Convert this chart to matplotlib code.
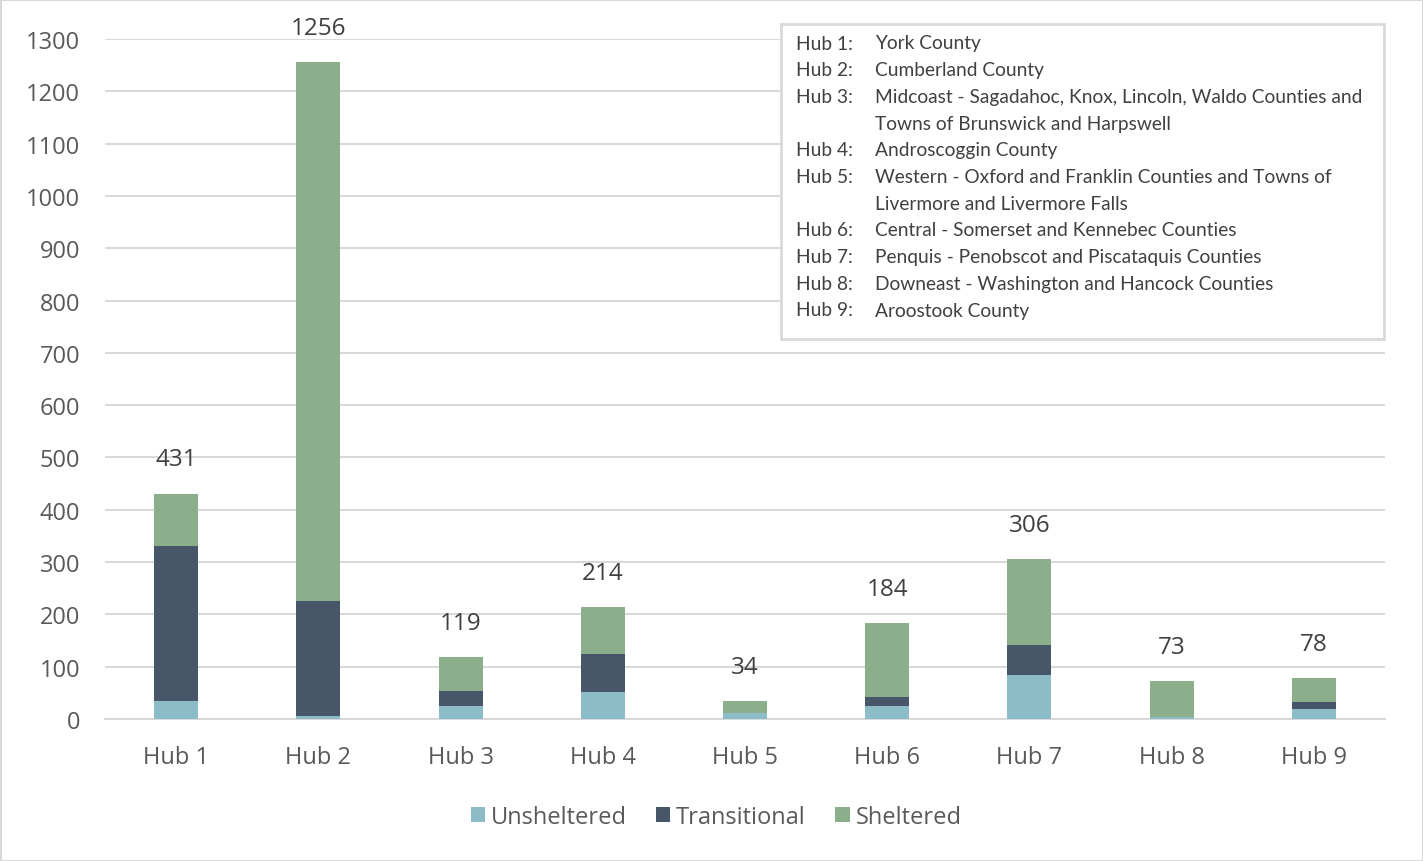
import matplotlib.pyplot as plt
from matplotlib.patches import Rectangle
import numpy as np

hubs = ["Hub 1", "Hub 2", "Hub 3", "Hub 4", "Hub 5", "Hub 6", "Hub 7", "Hub 8", "Hub 9"]
unsheltered = [34, 6, 25, 52, 11, 24, 84, 4, 20]
transitional = [297, 220, 29, 72, 0, 18, 58, 0, 13]
sheltered = [100, 1030, 65, 90, 23, 142, 164, 69, 45]
totals = [431, 1256, 119, 214, 34, 184, 306, 73, 78]

hub_keys = ["Hub 1:", "Hub 2:", "Hub 3:", "", "Hub 4:", "Hub 5:", "", "Hub 6:", "Hub 7:", "Hub 8:", "Hub 9:"]
hub_names = [
    "York County",
    "Cumberland County",
    "Midcoast - Sagadahoc, Knox, Lincoln, Waldo Counties and",
    "Towns of Brunswick and Harpswell",
    "Androscoggin County",
    "Western - Oxford and Franklin Counties and Towns of",
    "Livermore and Livermore Falls",
    "Central - Somerset and Kennebec Counties",
    "Penquis - Penobscot and Piscataquis Counties",
    "Downeast - Washington and Hancock Counties",
    "Aroostook County",
]

c_uns = "#8BBCC8"
c_tra = "#475669"
c_she = "#8AAF8A"

plt.rcParams['font.family'] = ['Open Sans', 'DejaVu Sans']

W, H = 1423, 862
fig = plt.figure(figsize=(W / 100, H / 100), dpi=100)
fig.patch.set_edgecolor("#D9D9D9")
fig.patch.set_linewidth(2)

ax = fig.add_axes([105 / W, 1 - 720 / H, 1280 / W, 680 / H])
x = np.arange(len(hubs))
w = 0.31
uns = np.array(unsheltered)
tra = np.array(transitional)
she = np.array(sheltered)
ax.bar(x, uns, w, color=c_uns, label="Unsheltered", zorder=3)
ax.bar(x, tra, w, bottom=uns, color=c_tra, label="Transitional", zorder=3)
ax.bar(x, she, w, bottom=uns + tra, color=c_she, label="Sheltered", zorder=3)

for i, t in enumerate(totals):
    ax.annotate(str(t), (x[i], uns[i] + tra[i] + she[i]), xytext=(0, 16),
                textcoords="offset points", ha="center", va="bottom",
                fontsize=17.5, color="#404040")

ax.set_xlim(-0.5, len(hubs) - 0.5)
ax.set_ylim(0, 1300)
ax.set_yticks(range(0, 1301, 100))
ax.set_xticks(x)
ax.set_xticklabels(hubs)
ax.tick_params(length=0, labelsize=17, labelcolor="#595959")
ax.tick_params(axis="y", pad=18)
ax.tick_params(axis="x", pad=19)
ax.grid(axis="y", color="#D9D9D9", lw=1.5, zorder=0)
for s in ["top", "right", "left"]:
    ax.spines[s].set_visible(False)
ax.spines["bottom"].set_color("#D9D9D9")
ax.spines["bottom"].set_linewidth(1.5)

ax.legend(loc="center", bbox_to_anchor=((716 - 105) / 1280, (720 - 818) / 680), ncol=3,
          frameon=False, fontsize=17, labelcolor="#595959", handlelength=0.6,
          handleheight=0.6, handletextpad=0.25, columnspacing=1.25)

# hub description box
box = Rectangle((781 / W, 1 - 340 / H), (1384 - 781) / W, (340 - 25) / H,
                transform=fig.transFigure, facecolor="white", edgecolor="#D9D9D9",
                lw=2, zorder=5)
fig.patches.append(box)
for k, (key, name) in enumerate(zip(hub_keys, hub_names)):
    yy = 1 - (44 + k * 26.7) / H
    fig.text(796 / W, yy, key, fontsize=13.8, color="#404040", va="center",
             family=["Lato", "DejaVu Sans"], zorder=6)
    fig.text(875 / W, yy, name, fontsize=13.8, color="#404040", va="center",
             family=["Lato", "DejaVu Sans"], zorder=6)

fig.savefig("out.png", dpi=100)
